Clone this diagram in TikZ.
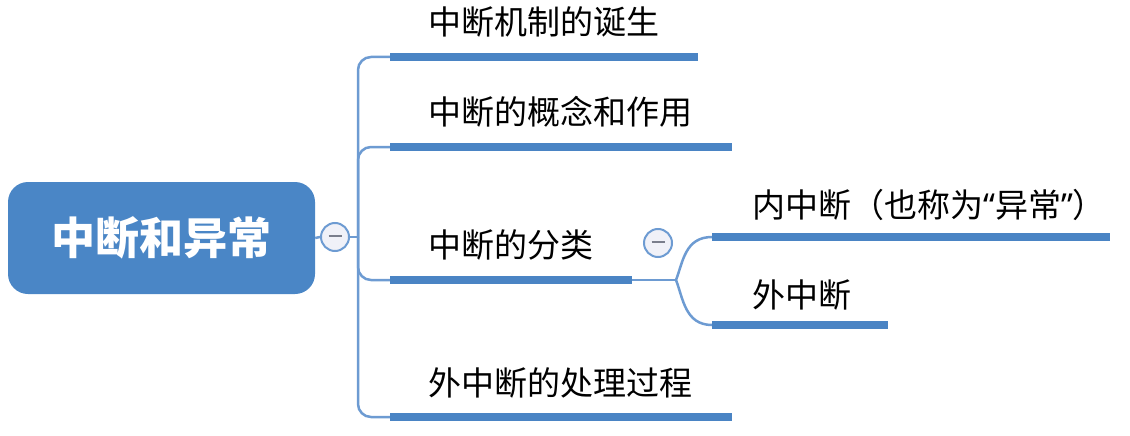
\documentclass[tikz,border=0pt]{standalone}
\usepackage{fontspec}
\usepackage{xcolor}
\usetikzlibrary{positioning}
\newfontfamily\cjk{Noto Sans CJK SC}
\newfontfamily\latinq{Noto Sans}
\definecolor{rootblue}{HTML}{4A86C6}
\definecolor{barblue}{HTML}{4A84C4}
\definecolor{thinblue}{HTML}{6D9BD2}
\definecolor{foldfill}{HTML}{F0F1F8}
\definecolor{minusgray}{HTML}{7A7E8C}

\begin{document}
\begin{tikzpicture}[
x=1pt, y=-1pt,
rootbox/.style={
rectangle,
rounded corners=20pt,
fill=rootblue,
text=white,
minimum width=307pt,
minimum height=112pt,
font=\cjk\bfseries\fontsize{44}{50}\selectfont
},
leaf/.style={
anchor=west,
inner sep=0pt,
font=\cjk\fontsize{33}{40}\selectfont
},
fold/.style={
circle,
draw=thinblue,
line width=2pt,
fill=foldfill,
minimum size=28pt,
inner sep=0pt
},
bar/.style={barblue,line width=8pt},
link/.style={thinblue,line width=2.5pt}
]
\useasboundingbox (0,0) rectangle (1130,436);

\node[rootbox] (root) at (161.5,238) {中断和异常};
\node[fold] (fold1) at (335,237) {\textcolor{minusgray}{\rule[2pt]{13pt}{2.5pt}}};
\coordinate (trunk) at (358,237);

% first level
\node[leaf] (birth) at (428,22) {中断机制的诞生};
\node[leaf] (concept) at (428,112) {中断的概念和作用};
\node[leaf] (kinds) at (428,245) {中断的分类};
\node[leaf] (handle) at (428,383) {外中断的处理过程};

\coordinate (b1) at (390,57);  \coordinate (e1) at (698,57);
\coordinate (b2) at (390,147); \coordinate (e2) at (732,147);
\coordinate (b3) at (390,280); \coordinate (e3) at (632,280);
\coordinate (b4) at (390,417); \coordinate (e4) at (732,417);

\draw[link] (root.east) -- (fold1.west);
\draw[link] (fold1.east) -- (trunk);
\draw[link,rounded corners=13pt] (trunk) |- (b1);
\draw[link,rounded corners=13pt] (trunk) |- (b2);
\draw[link,rounded corners=13pt] (trunk) |- (b3);
\draw[link,rounded corners=13pt] (trunk) |- (b4);
\foreach \i in {1,...,4}
  \draw[bar] (b\i) -- (e\i);

% second level
\node[fold] (fold2) at (658,243) {\textcolor{minusgray}{\rule[2pt]{13pt}{2.5pt}}};
\node[leaf] (inner) at (752,205) {内中断（也称为{\latinq “}异常{\latinq ”}）};
\node[leaf] (outer) at (752,295) {外中断};

\coordinate (fork) at (676,280);
\coordinate (b5) at (712,237); \coordinate (e5) at (1110,237);
\coordinate (b6) at (712,325); \coordinate (e6) at (888,325);

\draw[link] (e3) -- (fork);
\draw[link] (fork) .. controls (683,262) and (685,237) .. (b5);
\draw[link] (fork) .. controls (683,298) and (685,325) .. (b6);
\draw[bar] (b5) -- (e5);
\draw[bar] (b6) -- (e6);

\end{tikzpicture}
\end{document}
